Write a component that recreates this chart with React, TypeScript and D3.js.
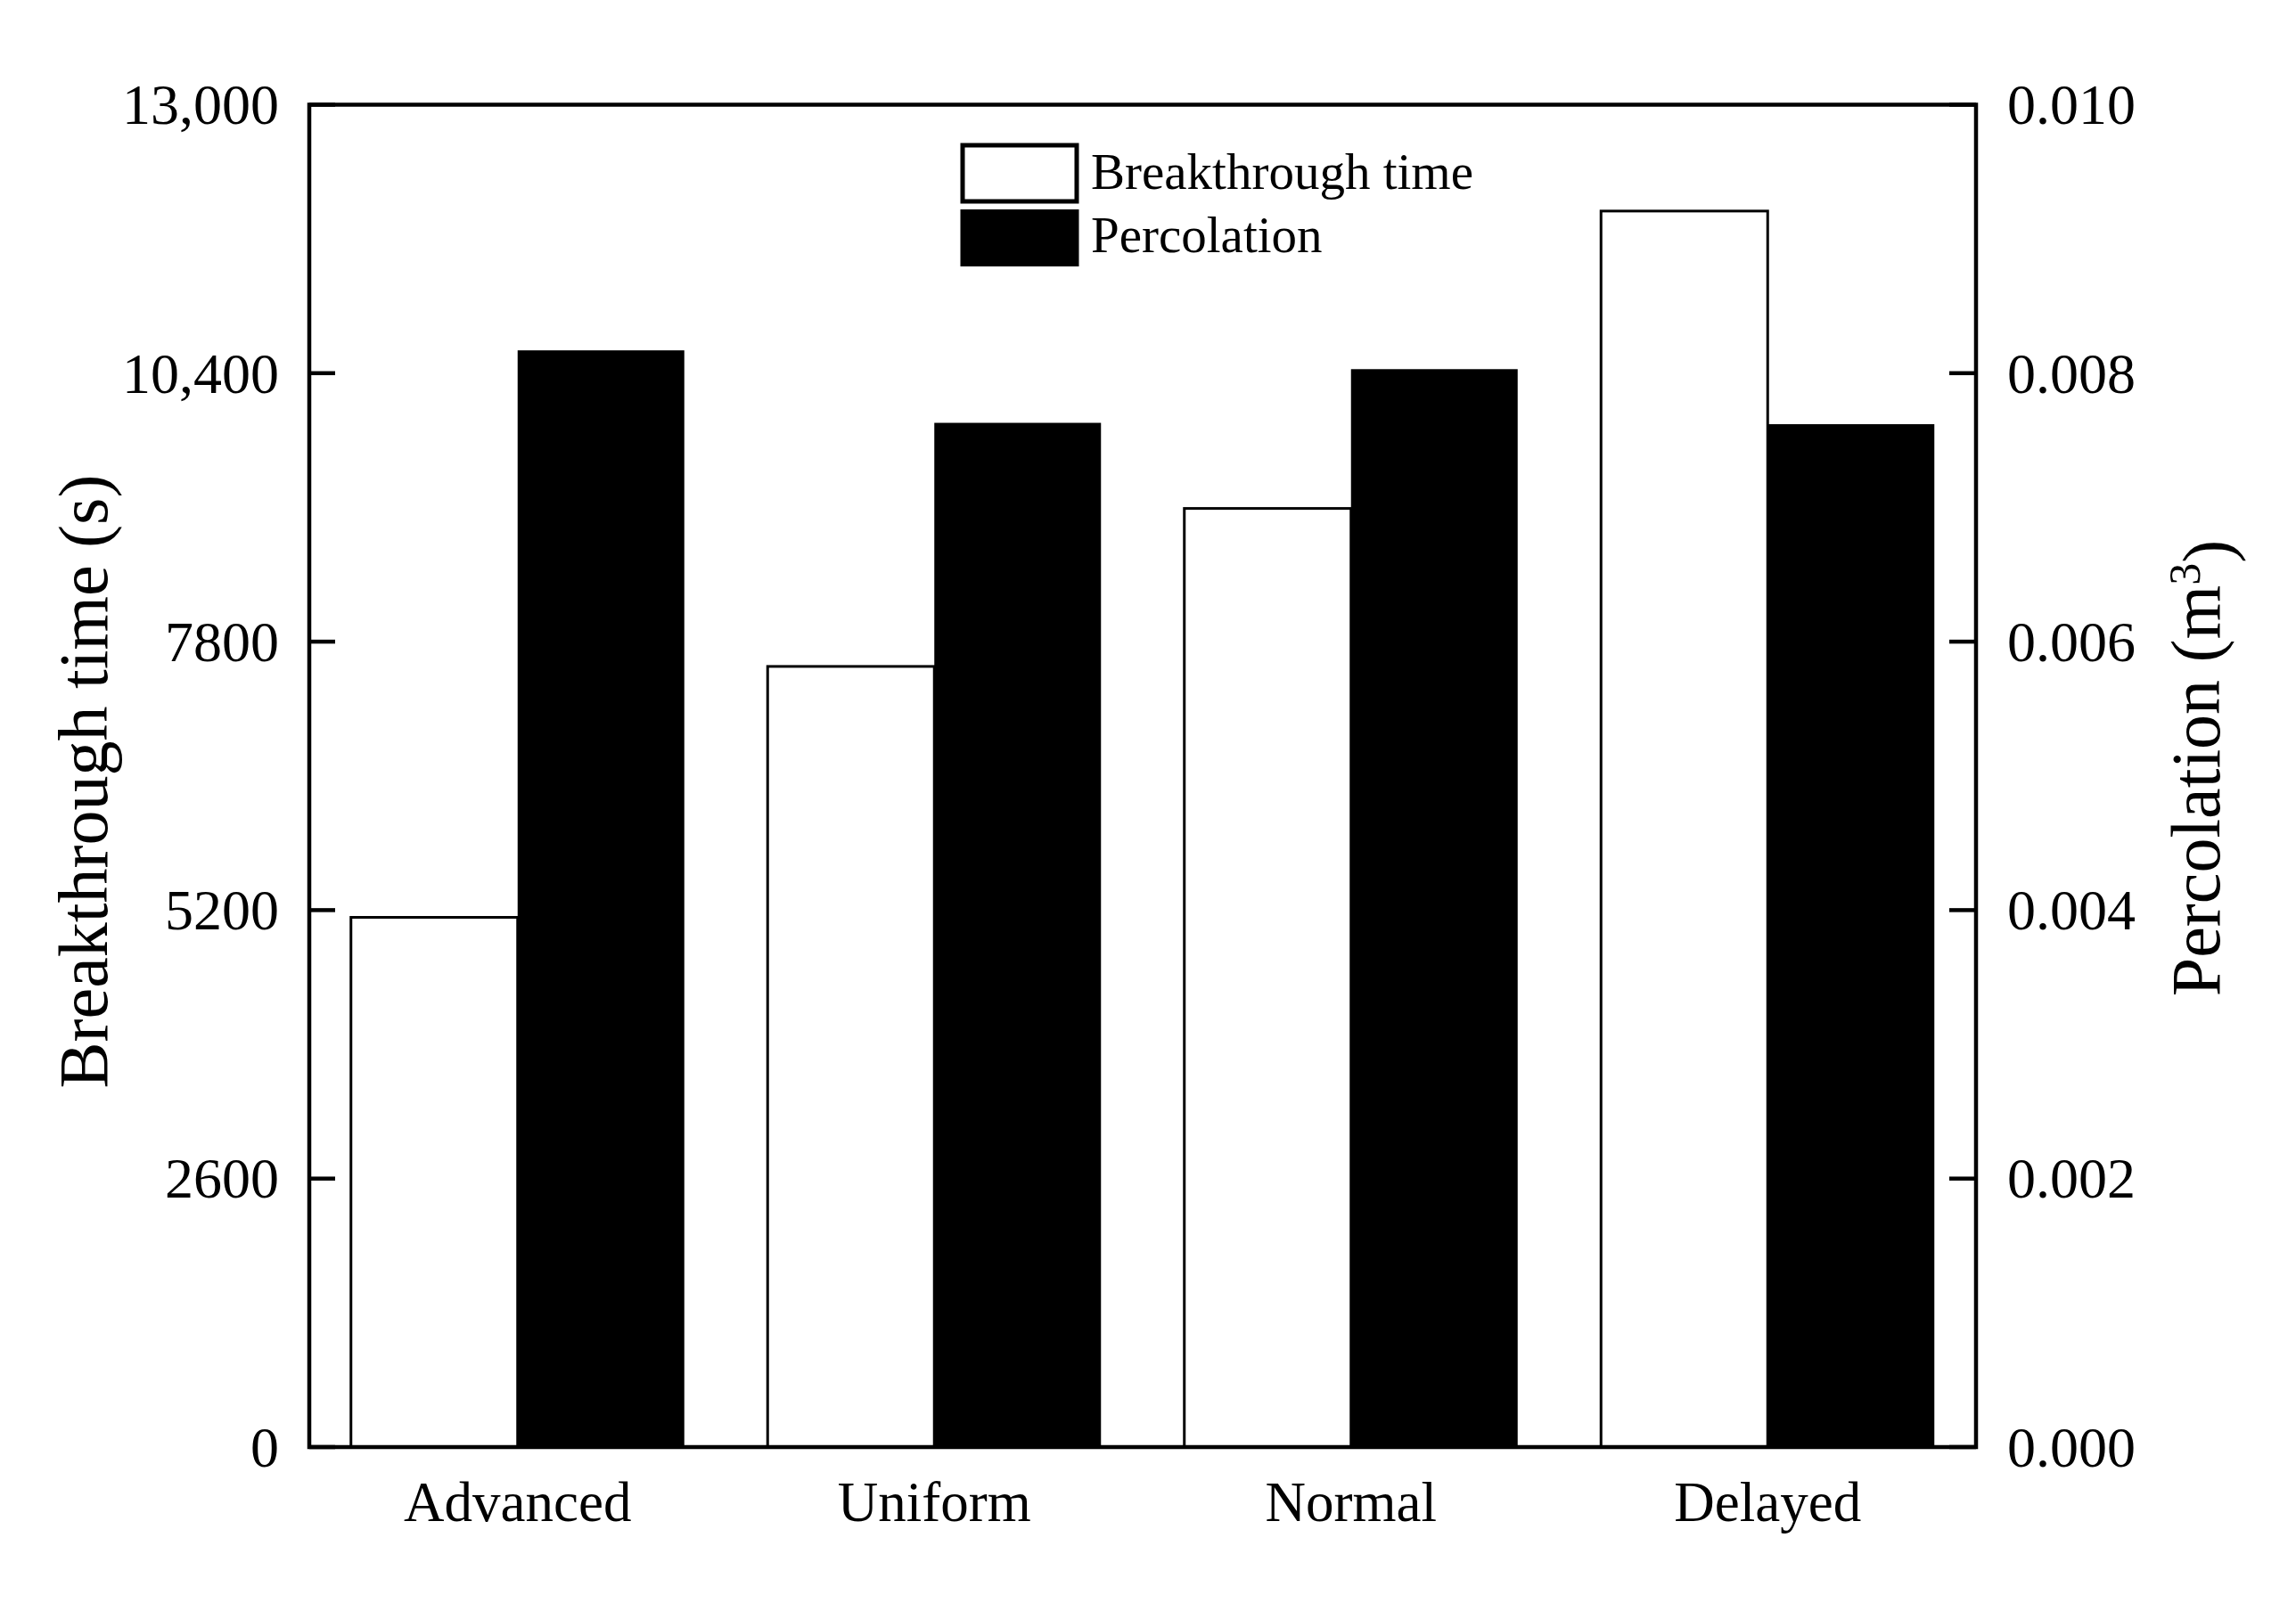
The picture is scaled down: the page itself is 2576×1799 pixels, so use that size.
import React, { useEffect, useRef } from "react";
import * as d3 from "d3";

const categories = ["Advanced", "Uniform", "Normal", "Delayed"];
const breakthroughTime = [5130, 7560, 9090, 11970];
const percolation = [0.00817, 0.00763, 0.00803, 0.00762];
const leftTicks = [0, 2600, 5200, 7800, 10400, 13000];
const leftTickLabels = ["0", "2600", "5200", "7800", "10,400", "13,000"];
const rightTicks = [0, 0.002, 0.004, 0.006, 0.008, 0.01];
const rightTickLabels = ["0.000", "0.002", "0.004", "0.006", "0.008", "0.010"];
const seriesNames = ["Breakthrough time", "Percolation"];

const FONT = "'Liberation Serif', 'Times New Roman', serif";

export default function App() {
  const ref = useRef<SVGSVGElement | null>(null);

  useEffect(() => {
    if (!ref.current) return;
    const width = 2576;
    const height = 1799;
    const svg = d3.select(ref.current);
    svg.attr("width", width).attr("height", height);
    svg.selectAll("*").remove();

    svg.append("rect").attr("width", width).attr("height", height).attr("fill", "white");

    // plot frame in page pixels
    const left = 347, right = 2217, top = 117.5, bottom = 1624;

    const x = d3.scaleBand().domain(categories).range([left, right]).paddingInner(0.2).paddingOuter(0.1);
    const yL = d3.scaleLinear().domain([0, 13000]).range([bottom, top]);
    const yR = d3.scaleLinear().domain([0, 0.01]).range([bottom, top]);
    const half = x.bandwidth() / 2;

    // bars
    svg.append("g").selectAll("rect").data(categories).enter().append("rect")
      .attr("x", (d) => x(d)!)
      .attr("y", (_, i) => yL(breakthroughTime[i]))
      .attr("width", half)
      .attr("height", (_, i) => bottom - yL(breakthroughTime[i]))
      .attr("fill", "white")
      .attr("stroke", "black")
      .attr("stroke-width", 3);

    svg.append("g").selectAll("rect").data(categories).enter().append("rect")
      .attr("x", (d) => x(d)! + half)
      .attr("y", (_, i) => yR(percolation[i]))
      .attr("width", half)
      .attr("height", (_, i) => bottom - yR(percolation[i]))
      .attr("fill", "black");

    // frame
    svg.append("rect")
      .attr("x", left).attr("y", top)
      .attr("width", right - left).attr("height", bottom - top)
      .attr("fill", "none").attr("stroke", "black").attr("stroke-width", 4.5);

    // left ticks (inward)
    const gl = svg.append("g");
    gl.selectAll("line").data(leftTicks).enter().append("line")
      .attr("x1", left).attr("x2", left + 29)
      .attr("y1", (d) => yL(d)).attr("y2", (d) => yL(d))
      .attr("stroke", "black").attr("stroke-width", 4.5);
    gl.selectAll("text").data(leftTicks).enter().append("text")
      .attr("x", left - 34)
      .attr("y", (d) => yL(d))
      .attr("dy", "0.34em")
      .attr("text-anchor", "end")
      .style("font-family", FONT).style("font-size", "64px")
      .text((_, i) => leftTickLabels[i]);

    // right ticks (inward)
    const gr = svg.append("g");
    gr.selectAll("line").data(rightTicks).enter().append("line")
      .attr("x1", right - 30).attr("x2", right)
      .attr("y1", (d) => yR(d)).attr("y2", (d) => yR(d))
      .attr("stroke", "black").attr("stroke-width", 4.5);
    gr.selectAll("text").data(rightTicks).enter().append("text")
      .attr("x", right + 35)
      .attr("y", (d) => yR(d))
      .attr("dy", "0.34em")
      .attr("text-anchor", "start")
      .style("font-family", FONT).style("font-size", "64px")
      .text((_, i) => rightTickLabels[i]);

    // category labels
    svg.append("g").selectAll("text").data(categories).enter().append("text")
      .attr("x", (d) => x(d)! + half)
      .attr("y", 1707)
      .attr("text-anchor", "middle")
      .style("font-family", FONT).style("font-size", "63px")
      .text((d) => d);

    // axis titles
    svg.append("text")
      .attr("transform", `translate(120,877) rotate(-90)`)
      .attr("text-anchor", "middle")
      .style("font-family", FONT).style("font-size", "78px")
      .text("Breakthrough time (s)");

    const rt = svg.append("text")
      .attr("transform", `translate(2490,862) rotate(-90)`)
      .attr("text-anchor", "middle")
      .style("font-family", FONT).style("font-size", "78px");
    rt.append("tspan").text("Percolation (m");
    rt.append("tspan").attr("dy", "-0.45em").style("font-size", "50px").text("3");
    rt.append("tspan").attr("dy", "0.45em").text(")");

    // legend
    const lg = svg.append("g");
    const boxX = 1080, boxW = 128;
    lg.append("rect").attr("x", boxX).attr("y", 163).attr("width", boxW).attr("height", 63)
      .attr("fill", "white").attr("stroke", "black").attr("stroke-width", 5);
    lg.append("rect").attr("x", boxX - 2.5).attr("y", 235).attr("width", boxW + 5).attr("height", 64)
      .attr("fill", "black");
    lg.selectAll("text").data(seriesNames).enter().append("text")
      .attr("x", 1224)
      .attr("y", (_, i) => (i === 0 ? 212 : 283))
      .style("font-family", FONT).style("font-size", "57px")
      .text((d) => d);
  }, []);

  return <svg ref={ref} style={{ position: "absolute", left: 0, top: 0, display: "block" }} />;
}
